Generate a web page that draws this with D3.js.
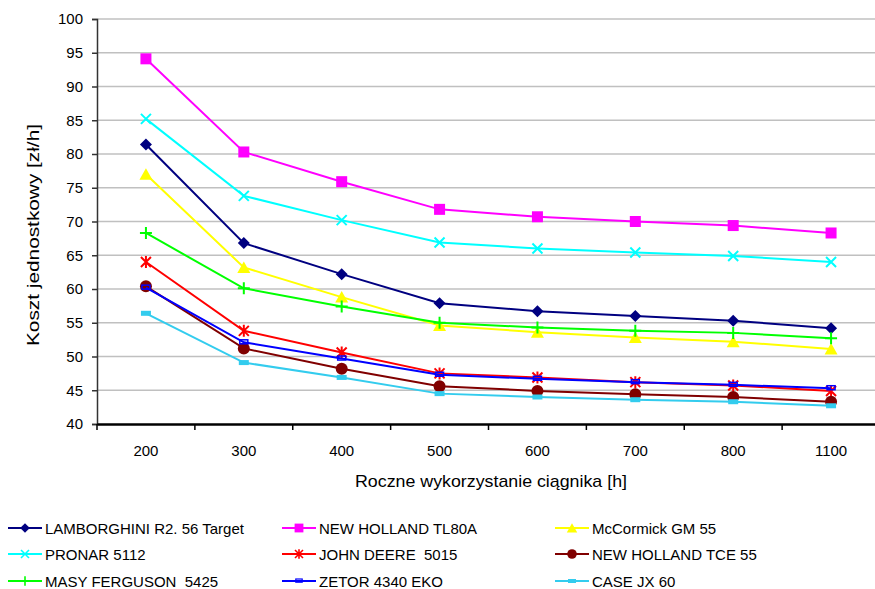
<!DOCTYPE html>
<html>
<head>
<meta charset="utf-8">
<script src="https://cdn.jsdelivr.net/npm/d3@7"></script>
<style>
  html, body { margin: 0; padding: 0; background: #fff; }
  svg { display: block; font-family: "Liberation Sans", Arial, sans-serif; }
</style>
</head>
<body>
<div id="chart"></div>
<script>
const hours = ["200", "300", "400", "500", "600", "700", "800", "1100"];
const yTicks = [40, 45, 50, 55, 60, 65, 70, 75, 80, 85, 90, 95, 100];

const lamborghini = [81.4, 66.8, 62.2, 57.9, 56.7, 56.0, 55.3, 54.2];
const nhTL80A = [94.1, 80.3, 75.9, 71.8, 70.7, 70.0, 69.4, 68.3];
const mccormick = [77.0, 63.2, 58.8, 54.6, 53.6, 52.8, 52.2, 51.1];
const pronar = [85.2, 73.8, 70.2, 66.9, 66.0, 65.4, 64.9, 64.0];
const johnDeere = [64.0, 53.8, 50.6, 47.5, 46.9, 46.2, 45.7, 44.9];
const nhTCE55 = [60.4, 51.2, 48.2, 45.6, 44.9, 44.4, 44.0, 43.3];
const masyFerguson = [68.3, 60.1, 57.4, 55.0, 54.3, 53.8, 53.5, 52.7];
const zetor = [60.2, 52.1, 49.7, 47.3, 46.7, 46.2, 45.8, 45.3];
const caseJX = [56.4, 49.1, 46.9, 44.5, 44.0, 43.6, 43.3, 42.7];

// kolejnosc jak w legendzie (wiersz po wierszu)
const series = [
  { name: "LAMBORGHINI R2. 56 Target", values: lamborghini, color: "#000080", marker: "diamond" },
  { name: "NEW HOLLAND TL80A", values: nhTL80A, color: "#FF00FF", marker: "square" },
  { name: "McCormick GM 55", values: mccormick, color: "#FFFF00", marker: "triangle" },
  { name: "PRONAR 5112", values: pronar, color: "#00FFFF", marker: "x" },
  { name: "JOHN DEERE  5015", values: johnDeere, color: "#FF0000", marker: "star" },
  { name: "NEW HOLLAND TCE 55", values: nhTCE55, color: "#800000", marker: "circle" },
  { name: "MASY FERGUSON  5425", values: masyFerguson, color: "#00FF00", marker: "plus" },
  { name: "ZETOR 4340 EKO", values: zetor, color: "#0000FF", marker: "smallbar" },
  { name: "CASE JX 60", values: caseJX, color: "#33CCEE", marker: "bar" }
];

const W = 875, H = 589;
const plot = { left: 97, right: 880, top: 19, bottom: 424 };

const svg = d3.select("#chart").append("svg")
  .attr("width", W)
  .attr("height", H);

const x = d3.scaleBand()
  .domain(hours)
  .range([plot.left, plot.right])
  .padding(0);

const y = d3.scaleLinear()
  .domain([40, 100])
  .range([plot.bottom, plot.top]);

// siatka pozioma
svg.append("g")
  .selectAll("line")
  .data(yTicks.filter(t => t > 40))
  .enter()
  .append("line")
  .attr("x1", plot.left)
  .attr("x2", plot.right)
  .attr("y1", d => y(d))
  .attr("y2", d => y(d))
  .attr("stroke", "#c0c0c0")
  .attr("stroke-width", 1.6);

// os Y
const yAxis = svg.append("g")
  .attr("transform", `translate(${plot.left},0)`)
  .call(d3.axisLeft(y).tickValues(yTicks).tickSize(5).tickPadding(9));
yAxis.select(".domain").attr("stroke", "#333").attr("stroke-width", 1.5);
yAxis.selectAll(".tick line").attr("stroke", "#333").attr("stroke-width", 1.5);
yAxis.selectAll("text")
  .attr("font-size", "15px")
  .attr("fill", "#000")
  .attr("font-family", "Liberation Sans, Arial, sans-serif");

// os X
const xAxis = svg.append("g")
  .attr("transform", `translate(0,${plot.bottom})`)
  .call(d3.axisBottom(x).tickSize(0).tickPadding(21));
xAxis.select(".domain").attr("stroke", "#000").attr("stroke-width", 2.5);
xAxis.selectAll("text")
  .attr("font-size", "15px")
  .attr("fill", "#000")
  .attr("font-family", "Liberation Sans, Arial, sans-serif");

// kreski podzialki miedzy kategoriami
svg.append("g")
  .selectAll("line")
  .data(hours)
  .enter()
  .append("line")
  .attr("x1", d => x(d))
  .attr("x2", d => x(d))
  .attr("y1", plot.bottom)
  .attr("y2", plot.bottom + 6)
  .attr("stroke", "#000")
  .attr("stroke-width", 1.5);

// tytuly osi
svg.append("text")
  .attr("x", 491)
  .attr("y", 487)
  .attr("text-anchor", "middle")
  .attr("font-size", "17px")
  .attr("textLength", 272)
  .attr("lengthAdjust", "spacingAndGlyphs")
  .attr("fill", "#000")
  .text("Roczne wykorzystanie ciągnika [h]");

svg.append("text")
  .attr("transform", "translate(39,235) rotate(-90)")
  .attr("text-anchor", "middle")
  .attr("font-size", "17px")
  .attr("textLength", 222)
  .attr("lengthAdjust", "spacingAndGlyphs")
  .attr("fill", "#000")
  .text("Koszt jednostkowy [zł/h]");

function drawMarker(g, type, color) {
  switch (type) {
    case "diamond":
      g.append("path").attr("d", "M0,-6L6,0L0,6L-6,0Z").attr("fill", color);
      break;
    case "square":
      g.append("rect").attr("x", -5.5).attr("y", -5.5).attr("width", 11).attr("height", 11).attr("fill", color);
      break;
    case "triangle":
      g.append("path").attr("d", "M0,-6L6.5,5.5L-6.5,5.5Z").attr("fill", color);
      break;
    case "x":
      g.append("path").attr("d", "M-5,-5L5,5M-5,5L5,-5").attr("stroke", color).attr("stroke-width", 2);
      break;
    case "star":
      g.append("path").attr("d", "M-5,-5L5,5M-5,5L5,-5M0,-6L0,6").attr("stroke", color).attr("stroke-width", 2);
      break;
    case "circle":
      g.append("circle").attr("r", 6).attr("fill", color);
      break;
    case "plus":
      g.append("path").attr("d", "M-6,0L6,0M0,-6L0,6").attr("stroke", color).attr("stroke-width", 2);
      break;
    case "smallbar":
      g.append("rect").attr("x", -4).attr("y", -2.5).attr("width", 8).attr("height", 4).attr("fill", "none")
        .attr("stroke", color).attr("stroke-width", 1.5);
      break;
    case "bar":
      g.append("rect").attr("x", -5).attr("y", -2.5).attr("width", 10).attr("height", 5).attr("fill", color);
      break;
  }
}

const line = d3.line()
  .x((d, i) => x(hours[i]) + x.bandwidth() / 2)
  .y(d => y(d));

series.forEach(s => {
  svg.append("path")
    .datum(s.values)
    .attr("fill", "none")
    .attr("stroke", s.color)
    .attr("stroke-width", 2)
    .attr("d", line);

  s.values.forEach((v, i) => {
    const g = svg.append("g")
      .attr("transform", `translate(${x(hours[i]) + x.bandwidth() / 2},${y(v)})`);
    drawMarker(g, s.marker, s.color);
  });
});

// legenda 3 x 3
const legCols = [8, 282, 555];
const legRows = [528, 554, 581];
series.forEach((s, i) => {
  const lx = legCols[i % 3];
  const ly = legRows[Math.floor(i / 3)];
  const g = svg.append("g");
  g.append("line")
    .attr("x1", lx).attr("x2", lx + 34)
    .attr("y1", ly).attr("y2", ly)
    .attr("stroke", s.color)
    .attr("stroke-width", 2);
  const m = g.append("g").attr("transform", `translate(${lx + 17},${ly}) scale(0.8)`);
  drawMarker(m, s.marker, s.color);
  g.append("text")
    .attr("x", lx + 37)
    .attr("y", ly + 5.5)
    .attr("font-size", "15px")
    .attr("fill", "#000")
    .attr("xml:space", "preserve")
    .style("white-space", "pre")
    .text(s.name);
});
</script>
</body>
</html>
